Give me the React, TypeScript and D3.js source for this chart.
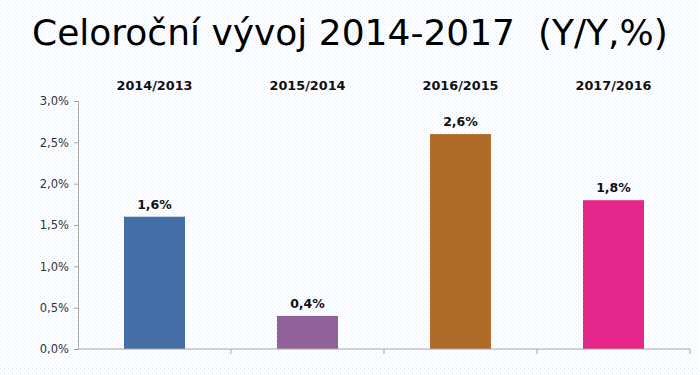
import { useEffect, useRef } from 'react';
import * as d3 from 'd3';

const WIDTH = 700;
const HEIGHT = 375;
const MARGIN = { top: 101, right: 10, bottom: 26, left: 78 };

const categories = ['2014/2013', '2015/2014', '2016/2015', '2017/2016'];
const values = [1.6, 0.4, 2.6, 1.8];
const colors = ['#436ea6', '#8f6299', '#b06b28', '#e5268a'];
const yTicks = [0, 0.5, 1.0, 1.5, 2.0, 2.5, 3.0];

const fmt = (v: number) => v.toFixed(1).replace('.', ',') + '%';

export default function App() {
  const axesRef = useRef<SVGGElement>(null);
  const boundsWidth = WIDTH - MARGIN.left - MARGIN.right;
  const boundsHeight = HEIGHT - MARGIN.top - MARGIN.bottom;

  const xScale = d3.scaleBand().domain(categories).range([0, boundsWidth]).paddingInner(0).paddingOuter(0);
  const yScale = d3.scaleLinear().domain([0, 3]).range([boundsHeight, 0]);
  const barW = 61;

  // axes drawn with d3
  useEffect(() => {
    const g = d3.select(axesRef.current);
    g.selectAll('*').remove();

    const yAxis = g.append('g').call(
      d3.axisLeft(yScale).tickValues(yTicks).tickFormat((d) => fmt(+d)).tickSize(4).tickSizeOuter(4)
    );
    yAxis.select('.domain').attr('stroke', '#a6a6a6');
    yAxis.selectAll('line').attr('stroke', '#a6a6a6');
    yAxis
      .selectAll('text')
      .attr('fill', '#333')
      .attr('font-family', 'DejaVu Sans, Verdana, sans-serif')
      .attr('font-size', 11.5)
      .attr('x', -9);

    const boundaries = d3.range(categories.length + 1).map((i) => i * xScale.bandwidth());
    const xAxis = g.append('g').attr('transform', `translate(0,${boundsHeight})`);
    xAxis
      .append('line')
      .attr('x1', 0)
      .attr('x2', boundsWidth)
      .attr('stroke', '#a6a6a6');
    xAxis
      .selectAll('line.tick')
      .data(boundaries.slice(1))
      .join('line')
      .attr('class', 'tick')
      .attr('x1', (d) => d)
      .attr('x2', (d) => d)
      .attr('y1', 0)
      .attr('y2', 5)
      .attr('stroke', '#a6a6a6');
  }, []);

  return (
    <svg width={WIDTH} height={HEIGHT} style={{ position: 'absolute', left: 0, top: 0 }}>
      <defs>
        <pattern id="dots" width={4} height={4} patternUnits="userSpaceOnUse">
          <rect width={4} height={4} fill="#ffffff" />
          <rect x={0} y={0} width={1} height={1} fill="#e3e8f1" />
          <rect x={2} y={2} width={1} height={1} fill="#e3e8f1" />
        </pattern>
      </defs>
      <rect width={WIDTH} height={HEIGHT} fill="url(#dots)" />
      <text
        x={32}
        y={45}
        fontFamily="DejaVu Sans, Verdana, sans-serif"
        fontSize={36}
        fill="#000"
        style={{ whiteSpace: 'pre' }}
      >
        {'Celoroční vývoj 2014-2017  (Y/Y,%)'}
      </text>
      <g transform={`translate(${MARGIN.left},${MARGIN.top})`}>
        {categories.map((c, i) => {
          const cx = (xScale(c) ?? 0) + xScale.bandwidth() / 2;
          const y = yScale(values[i]);
          return (
            <g key={c}>
              <text
                x={cx}
                y={-11}
                textAnchor="middle"
                fontFamily="DejaVu Sans, Verdana, sans-serif"
                fontWeight="bold"
                fontSize={12.8}
                fill="#111"
              >
                {c}
              </text>
              <rect x={cx - barW / 2} y={y} width={barW} height={boundsHeight - y} fill={colors[i]} />
              <text
                x={cx}
                y={y - 8}
                textAnchor="middle"
                fontFamily="DejaVu Sans, Verdana, sans-serif"
                fontWeight="bold"
                fontSize={12.5}
                fill="#111"
              >
                {fmt(values[i])}
              </text>
            </g>
          );
        })}
        <g ref={axesRef} />
      </g>
    </svg>
  );
}
